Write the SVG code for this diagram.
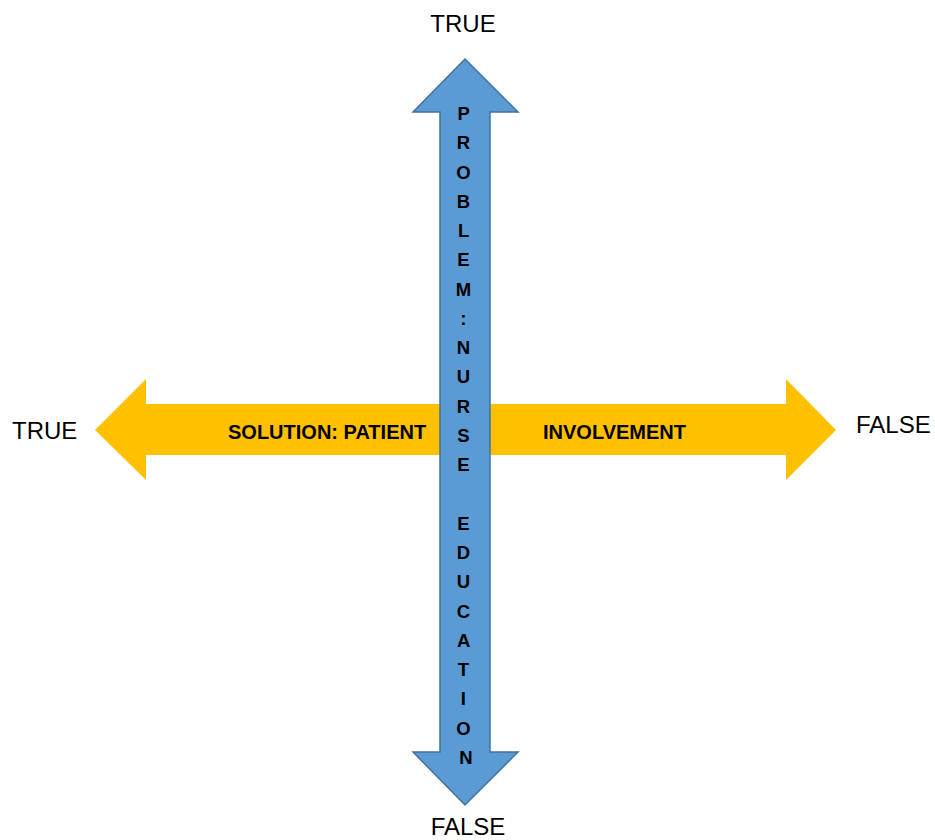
<svg xmlns="http://www.w3.org/2000/svg" width="935" height="840" viewBox="0 0 935 840">
<style>
.lbl{font-family:"Liberation Sans",Arial,sans-serif;font-size:24px;fill:#000}
.bold{font-family:"Liberation Sans",Arial,sans-serif;font-weight:bold;fill:#000}
</style>
<rect width="935" height="840" fill="#fff"/>
<g id="connectors">
<polygon id="h-arrow" points="95,430 146,379 146,404 786,404 786,379 836,430 786,480 786,455 146,455 146,480" fill="#FFC000"/>
<polygon id="v-arrow" points="465,59 518,112 490,112 490,752 518,752 465,805 413,752 440,752 440,112 413,112" fill="#5B9BD5" stroke="#41719C" stroke-width="1.5" stroke-linejoin="miter"/>
</g>
<g id="h-text">
<text class="bold" x="228" y="439" font-size="20">SOLUTION: PATIENT</text>
<text class="bold" x="543" y="439" font-size="20">INVOLVEMENT</text>
</g>
<g id="v-text">
<text class="bold" font-size="18.5" text-anchor="middle">
<tspan x="466" y="120">P</tspan>
<tspan x="466" y="149.3">R</tspan>
<tspan x="466" y="178.5">O</tspan>
<tspan x="466" y="207.8">B</tspan>
<tspan x="466" y="237.1">L</tspan>
<tspan x="466" y="266.4">E</tspan>
<tspan x="466" y="295.6">M</tspan>
<tspan x="466" y="324.9">:</tspan>
<tspan x="466" y="354.2">N</tspan>
<tspan x="466" y="383.4">U</tspan>
<tspan x="466" y="412.7">R</tspan>
<tspan x="466" y="442">S</tspan>
<tspan x="466" y="471.2">E</tspan>
<tspan x="466" y="529.8">E</tspan>
<tspan x="466" y="559">D</tspan>
<tspan x="466" y="588.3">U</tspan>
<tspan x="466" y="617.6">C</tspan>
<tspan x="466" y="646.9">A</tspan>
<tspan x="466" y="676.1">T</tspan>
<tspan x="466" y="705.4">I</tspan>
<tspan x="466" y="734.7">O</tspan>
<tspan x="466" y="764">N</tspan>
</text>
</g>
<g id="label-top"><text class="lbl" x="463" y="32" text-anchor="middle">TRUE</text></g>
<g id="label-bottom"><text class="lbl" x="468" y="835" text-anchor="middle">FALSE</text></g>
<g id="label-left"><text class="lbl" x="12" y="439">TRUE</text></g>
<g id="label-right"><text class="lbl" x="856" y="433">FALSE</text></g>
</svg>
